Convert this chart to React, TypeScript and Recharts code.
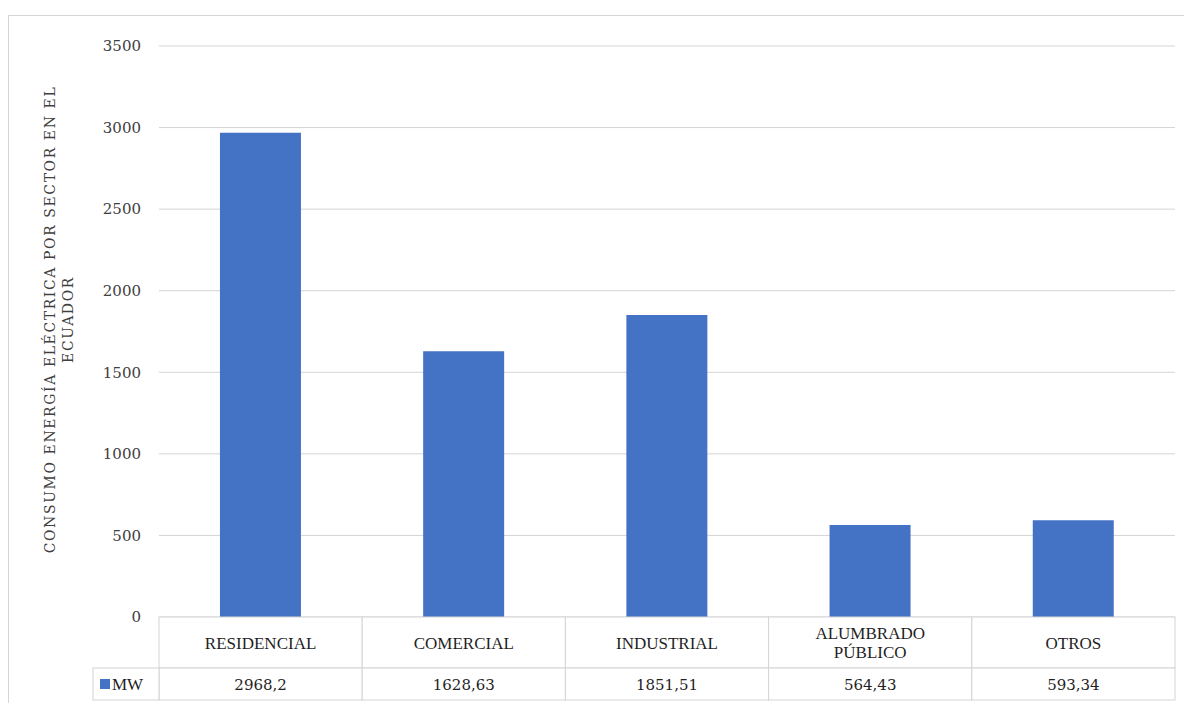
import React from 'react';
import { BarChart, Bar, XAxis, YAxis, CartesianGrid } from 'recharts';

const categories = ['RESIDENCIAL', 'COMERCIAL', 'INDUSTRIAL', 'ALUMBRADO PÚBLICO', 'OTROS'];
const categoryLines = [['RESIDENCIAL'], ['COMERCIAL'], ['INDUSTRIAL'], ['ALUMBRADO', 'PÚBLICO'], ['OTROS']];
const mwValues = [2968.2, 1628.63, 1851.51, 564.43, 593.34];
const mwLabels = ['2968,2', '1628,63', '1851,51', '564,43', '593,34'];
const yTicks = [0, 500, 1000, 1500, 2000, 2500, 3000, 3500];
const seriesName = 'MW';
const axisTitle = ['CONSUMO ENERGÍA ELÉCTRICA POR SECTOR EN EL', 'ECUADOR'];

const BLUE = '#4472C4';
const GRID = '#d4d4d4';
const FONT = '"Liberation Serif", "DejaVu Serif", serif';
const WIDE_FONT = '"DejaVu Serif", serif';

const CHART_W = 1183;
const CHART_H = 687;
const MARGIN = { top: 30, right: 17, bottom: 0, left: 0 };
const Y_AXIS_W = 150;
const X_AXIS_H = 86;
const PLOT_W = CHART_W - MARGIN.left - MARGIN.right - Y_AXIS_W;
const BAND = PLOT_W / categories.length;
const ROW1_H = 51;
const ROW2_H = 32;
const KEY_W = 66;

const data = categories.map((c, i) => ({ name: c, value: mwValues[i], idx: i }));

// celdas de la tabla de datos dibujadas desde cada tick del eje X
const TableTick = (props: any) => {
  const { x, y, index } = props;
  const left = x - BAND / 2;
  const lines = categoryLines[index];
  return (
    <g>
      <rect x={left} y={y} width={BAND} height={ROW1_H} fill="#fff" stroke={GRID} />
      <rect x={left} y={y + ROW1_H} width={BAND} height={ROW2_H} fill="#fff" stroke={GRID} />
      {lines.map((l: string, k: number) => (
        <text
          key={k}
          x={x}
          y={y + ROW1_H / 2 + 6 + (k - (lines.length - 1) / 2) * 19}
          textAnchor="middle"
          fontFamily={FONT}
          fontSize={17}
          fill="#1f1f1f"
        >
          {l}
        </text>
      ))}
      <text x={x} y={y + ROW1_H + ROW2_H / 2 + 6} textAnchor="middle" fontFamily={WIDE_FONT} fontSize={15} fill="#1f1f1f">
        {mwLabels[index]}
      </text>
      {index === 0 && (
        <g>
          <rect x={left - KEY_W} y={y + ROW1_H} width={KEY_W} height={ROW2_H} fill="#fff" stroke={GRID} />
          <rect x={left - KEY_W + 7} y={y + ROW1_H + 11} width={10} height={10} fill={BLUE} />
          <text x={left - KEY_W + 19} y={y + ROW1_H + ROW2_H / 2 + 6} fontFamily={FONT} fontSize={17} fill="#1f1f1f">
            {seriesName}
          </text>
        </g>
      )}
    </g>
  );
};

const AxisTitle = (props: any) => {
  const { viewBox } = props;
  const cy = viewBox.y + viewBox.height / 2 - 12;
  const xs = [46, 64];
  return (
    <g>
      {axisTitle.map((t, i) => (
        <text
          key={i}
          x={xs[i]}
          y={cy}
          transform={`rotate(-90, ${xs[i]}, ${cy})`}
          textAnchor="middle"
          fontFamily={WIDE_FONT}
          fontSize={14}
          letterSpacing={1.6}
          fill="#404040"
        >
          {t}
        </text>
      ))}
    </g>
  );
};

export default function App() {
  return (
    <div
      style={{
        marginTop: 7,
        borderTop: `1px solid ${GRID}`,
        borderLeft: `1px solid ${GRID}`,
        width: CHART_W,
        height: CHART_H,
        background: '#fff',
      }}
    >
      <BarChart width={CHART_W} height={CHART_H} data={data} margin={MARGIN} barCategoryGap="30%">
        <CartesianGrid vertical={false} stroke={GRID} />
        <XAxis
          dataKey="name"
          height={X_AXIS_H}
          axisLine={false}
          tickLine={false}
          tickSize={0}
          tickMargin={0}
          interval={0}
          tick={<TableTick />}
        />
        <YAxis
          width={Y_AXIS_W}
          domain={[0, 3500]}
          ticks={yTicks}
          axisLine={false}
          tickLine={false}
          tickSize={0}
          tickMargin={18}
          tick={{ fontFamily: WIDE_FONT, fontSize: 15, fill: '#404040' }}
          label={<AxisTitle />}
        />
        <Bar dataKey="value" fill={BLUE} isAnimationActive={false} />
      </BarChart>
    </div>
  );
}
